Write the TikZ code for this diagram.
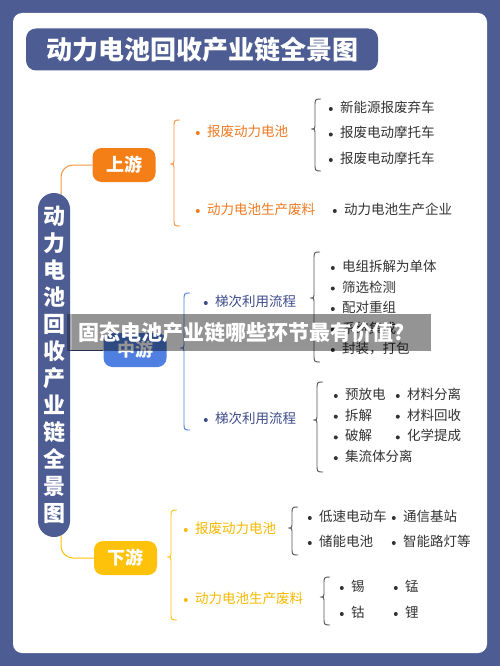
\documentclass[tikz,border=0pt]{standalone}
\usepackage{fontspec}
\setmainfont{Noto Sans CJK SC}
\usetikzlibrary{positioning}

\definecolor{navy}{HTML}{4D5C92}
\definecolor{upor}{HTML}{F57F17}
\definecolor{uptx}{HTML}{EE7B22}
\definecolor{midbl}{HTML}{4F80E1}
\definecolor{midtx}{HTML}{3E4C8C}
\definecolor{dnye}{HTML}{FFC20A}
\definecolor{dntx}{HTML}{F7B900}
\definecolor{gtxt}{HTML}{333333}
\definecolor{gbrc}{HTML}{555555}

\tikzset{
  hub/.style={rounded corners=9pt, minimum width=63pt, minimum height=34pt, inner sep=0pt,
    text=white, font=\fontsize{18}{18}\selectfont\bfseries},
  itm/.style={anchor=west, inner sep=0pt, text height=10pt, text depth=3pt, text=#1,
    font=\fontsize{13.5}{14}\selectfont,
    label={[circle, fill=#1, inner sep=0pt, minimum size=4pt, xshift=-7pt]left:{}}},
  link/.style={line width=1pt, rounded corners=12pt}
}

% curly brace: colour, tip x, top y, tip y, bottom y
\newcommand{\crly}[5]{%
  \draw[#1, line width=0.9pt] ({#2+10},#3) .. controls ({#2+4},#3) .. ({#2+4},{#3+8})
    -- ({#2+4},{#4-6}) .. controls ({#2+4},#4) .. (#2,#4)
    .. controls ({#2+4},#4) .. ({#2+4},{#4+6}) -- ({#2+4},{#5-8})
    .. controls ({#2+4},#5) .. ({#2+10},#5);}

\begin{document}
\begin{tikzpicture}[x=1pt,y=-1pt]
\useasboundingbox (0,0) rectangle (500,666);
\fill[navy] (0,0) rectangle (500,666);
\fill[white, rounded corners=9pt] (13,13) rectangle (487,653);

\node[fill=navy, rounded corners=10pt, minimum width=352pt, minimum height=42pt, inner sep=0pt,
  text=white, font=\fontsize{26}{26}\selectfont\bfseries] (ttl) at (202,49.5) {动力电池回收产业链全景图};

% links from the vertical title to the three stages
\coordinate (topend) at (61,195);
\coordinate (botend) at (61,535);
\node[hub, fill=upor] (up) at (124,165) {上游};
\node[hub, fill=midbl] (mid) at (135,350) {中游};
\node[hub, fill=dnye] (dn) at (125.5,558) {下游};
\draw[link, upor!80] (topend) |- (up.west);
\draw[link, dnye] (botend) |- (dn.west);
\draw[link, midtx] (70,350) -- (mid.west);

\node[fill=navy, rounded corners=16pt, minimum width=32pt, minimum height=344pt, inner sep=0pt,
  align=center, text=white, font=\fontsize{22}{27}\selectfont\bfseries] (main) at (54,365)
  {动\\力\\电\\池\\回\\收\\产\\业\\链\\全\\景\\图};

% upstream
\crly{upor!85}{170}{120}{164}{226}
\node[itm=uptx] (ub1) at (207,133) {报废动力电池};
\node[itm=uptx, below=78pt of ub1.west, anchor=west] (ub2) {动力电池生产废料};
\crly{gbrc}{311}{99}{129}{171}
\node[itm=gtxt] (ua1) at (340,109) {新能源报废弃车};
\node[itm=gtxt, below=25.5pt of ua1.west, anchor=west] (ua2) {报废电动摩托车};
\node[itm=gtxt, below=25.5pt of ua2.west, anchor=west] (ua3) {报废电动摩托车};
\node[itm=gtxt] (ua4) at (344,211) {动力电池生产企业};

% midstream
\crly{midbl}{180}{293}{348}{430}
\node[itm=midtx] (mb1) at (215,303) {梯次利用流程};
\node[itm=midtx, below=117pt of mb1.west, anchor=west] (mb2) {梯次利用流程};
\crly{gbrc}{310}{252}{298}{362}
\node[itm=gtxt] (ma1) at (342,268) {电组拆解为单体};
\node[itm=gtxt, below=20.5pt of ma1.west, anchor=west] (ma2) {筛选检测};
\node[itm=gtxt, below=20.5pt of ma2.west, anchor=west] (ma3) {配对重组};
\node[itm=gtxt, below=20.5pt of ma3.west, anchor=west] (ma4) {系统集成};
\node[itm=gtxt, below=20.5pt of ma4.west, anchor=west] (ma5) {封装，打包};
\crly{gbrc}{313}{382}{420}{472}
\node[itm=gtxt] (mc1) at (345,396) {预放电};
\node[itm=gtxt, below=20.7pt of mc1.west, anchor=west] (mc2) {拆解};
\node[itm=gtxt, below=20.7pt of mc2.west, anchor=west] (mc3) {破解};
\node[itm=gtxt, below=20.7pt of mc3.west, anchor=west] (mc4) {集流体分离};
\node[itm=gtxt, right=62pt of mc1.west, anchor=west] (mc5) {材料分离};
\node[itm=gtxt, right=62pt of mc2.west, anchor=west] (mc6) {材料回收};
\node[itm=gtxt, right=62pt of mc3.west, anchor=west] (mc7) {化学提成};

% downstream
\crly{dnye}{167}{510}{557}{620}
\node[itm=dntx] (db1) at (195,530) {报废动力电池};
\node[itm=dntx, below=70pt of db1.west, anchor=west] (db2) {动力电池生产废料};
\crly{gbrc}{288}{507}{528}{555}
\node[itm=gtxt] (da1) at (319,518) {低速电动车};
\node[itm=gtxt, below=25pt of da1.west, anchor=west] (da2) {储能电池};
\node[itm=gtxt, right=84pt of da1.west, anchor=west] (da3) {通信基站};
\node[itm=gtxt, right=84pt of da2.west, anchor=west] (da4) {智能路灯等};
\crly{gbrc}{320}{577}{597}{625}
\node[itm=gtxt] (dc1) at (351,588) {锡};
\node[itm=gtxt, below=26pt of dc1.west, anchor=west] (dc2) {钴};
\node[itm=gtxt, right=54pt of dc1.west, anchor=west] (dc3) {锰};
\node[itm=gtxt, right=54pt of dc2.west, anchor=west] (dc4) {锂};

% banner over the picture
\fill[black, opacity=0.3] (67,314) rectangle (72,351);
\node[fill=black, fill opacity=0.42, text opacity=1, text=white, anchor=west, inner xsep=6pt, inner ysep=0pt,
  text width=347pt, align=left, minimum height=37pt, font=\fontsize{21}{21}\selectfont\bfseries] (ban) at (72,332.5)
  {固态电池产业链哪些环节最有价值?};
\end{tikzpicture}
\end{document}
